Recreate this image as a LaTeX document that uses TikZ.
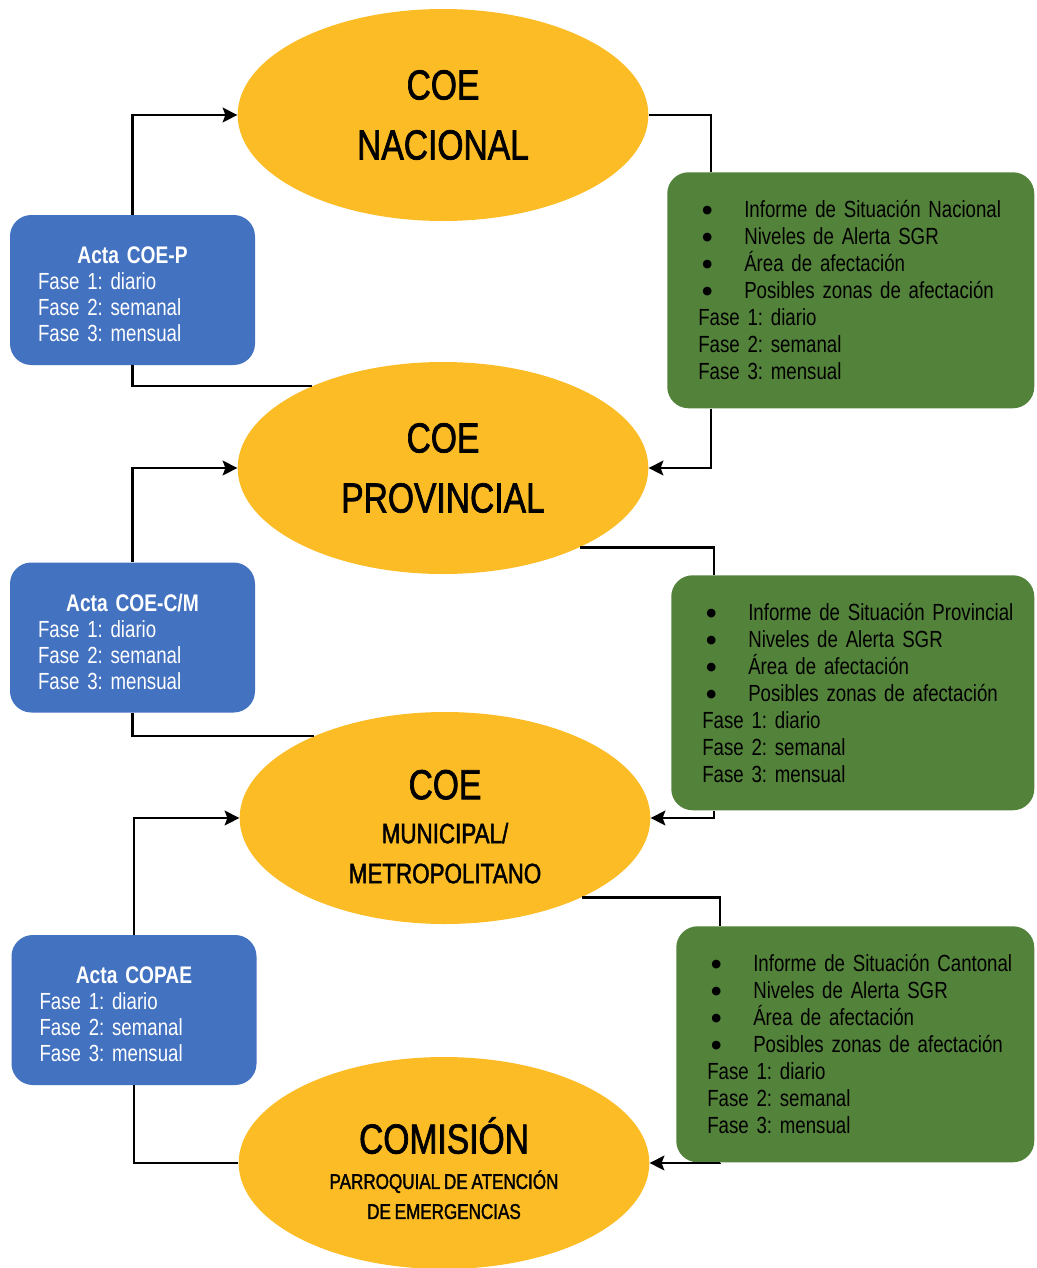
\documentclass[tikz,border=0pt]{standalone}
\usepackage{fontspec}
\setmainfont{Liberation Sans}[FakeStretch=0.8,WordSpace=0.75]
\newfontfamily\titlefont{Liberation Sans}[FakeStretch=0.8,WordSpace=0.8,FakeBold=1.6]
\newfontfamily\dotfont{DejaVu Sans}
\usetikzlibrary{shapes.geometric,arrows.meta,calc}
\definecolor{ellY}{RGB}{251,188,37}
\definecolor{boxB}{RGB}{67,114,193}
\definecolor{boxG}{RGB}{83,130,58}
\frenchspacing
\newcommand{\gitem}[1]{\mbox{\makebox[34.5pt][l]{\hspace{3pt}\raisebox{3pt}{\dotfont\fontsize{8.5}{9}\selectfont ●}}#1}}
\newcommand{\gline}[1]{\mbox{#1}}
\newcommand{\bhead}[1]{{\centering\bfseries\fontsize{18}{19.5}\selectfont\rule{0pt}{19.5pt}#1\par}}
\tikzset{
  ell/.style={ellipse, fill=ellY, minimum width=308pt, minimum height=159pt,
    inner sep=0pt, align=center, font=\titlefont\frenchspacing\fontsize{31.5}{45}\selectfont},
  bbox/.style={rectangle, rounded corners=16pt, fill=boxB, text=white,
    minimum width=183.75pt, minimum height=112.5pt, text width=141.75pt,
    inner xsep=21pt, inner ysep=0pt, align=left, font=\frenchspacing\fontsize{17.5}{19.5}\selectfont},
  gbox/.style={rectangle, rounded corners=16pt, fill=boxG, text=black,
    minimum height=177pt, text width=228.75pt, inner xsep=23.25pt, inner ysep=0pt,
    align=left, font=\frenchspacing\fontsize{17.5}{20.25}\selectfont, anchor=north west},
  conn/.style={line width=2pt, draw=black},
  arr/.style={conn, -{Stealth[length=11pt,width=11pt,inset=2pt]}}
}
\begin{document}
\begin{tikzpicture}[x=0.75pt,y=-0.75pt]
\useasboundingbox (0,0) rectangle (1036,1268);
% ellipses
\node[ell] (e1) at (443,115) {COE\\NACIONAL};
\node[ell] (e2) at (443,468) {COE\\PROVINCIAL};
\node[ell, font=\titlefont\frenchspacing\fontsize{21}{30}\selectfont] (e3) at (445,818)
  {{\fontsize{31.5}{38}\selectfont\rule{0pt}{35pt}COE}\\[3pt]MUNICIPAL/\\METROPOLITANO};
\node[ell, font=\titlefont\frenchspacing\fontsize{16}{22.5}\selectfont] (e4) at (444,1163)
  {{\fontsize{31.5}{38}\selectfont\rule{0pt}{35pt}COMISIÓN}\\[4pt]PARROQUIAL DE ATENCIÓN\\DE EMERGENCIAS};
% blue boxes
\node[bbox] (b1) at (132.5,290) {\bhead{Acta COE-P}Fase 1: diario\\Fase 2: semanal\\Fase 3: mensual};
\node[bbox] (b2) at (132.5,637.5) {\bhead{Acta COE-C/M}Fase 1: diario\\Fase 2: semanal\\Fase 3: mensual};
\node[bbox] (b3) at (134,1010) {\bhead{Acta COPAE}Fase 1: diario\\Fase 2: semanal\\Fase 3: mensual};
% green boxes
\node[gbox] (g1) at (667,172) {\gitem{Informe de Situación Nacional}\\\gitem{Niveles de Alerta SGR}\\\gitem{Área de afectación}\\\gitem{Posibles zonas de afectación}\\\gline{Fase 1: diario}\\\gline{Fase 2: semanal}\\\gline{Fase 3: mensual}};
\node[gbox, text width=225.75pt, minimum height=176.25pt] (g2) at (671,575) {\gitem{Informe de Situación Provincial}\\\gitem{Niveles de Alerta SGR}\\\gitem{Área de afectación}\\\gitem{Posibles zonas de afectación}\\\gline{Fase 1: diario}\\\gline{Fase 2: semanal}\\\gline{Fase 3: mensual}};
\node[gbox, text width=222pt] (g3) at (676,926) {\gitem{Informe de Situación Cantonal}\\\gitem{Niveles de Alerta SGR}\\\gitem{Área de afectación}\\\gitem{Posibles zonas de afectación}\\\gline{Fase 1: diario}\\\gline{Fase 2: semanal}\\\gline{Fase 3: mensual}};
% left connectors
\draw[arr] (b1.north) |- (e1.west);
\draw[conn] (b1.south) |- (e2.148);
\draw[arr] (b2.north) |- (e2.west);
\draw[conn] (b2.south) |- (e3.148);
\draw[arr] (b3.north) |- (e3.west);
\draw[conn] (b3.south) |- (e4.west);
% right connectors
\draw[conn] (e1.east) -| ($(g1.north west)+(44,0)$);
\draw[arr] ($(g1.south west)+(44,0)$) |- (e2.east);
\draw[conn] (e2.-30) -| ($(g2.north west)+(43,0)$);
\draw[arr] ($(g2.south west)+(43,0)$) |- (e3.east);
\draw[conn] (e3.-30) -| ($(g3.north west)+(44,0)$);
\draw[arr] ($(g3.south west)+(44,0)$) |- (e4.east);
\end{tikzpicture}
\end{document}
